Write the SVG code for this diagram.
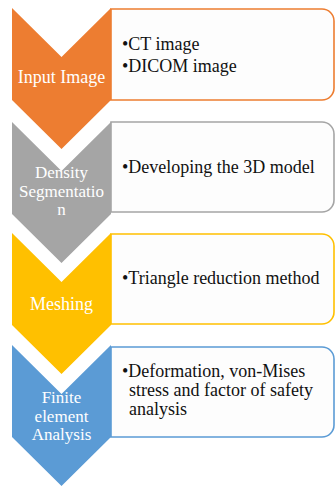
<svg xmlns="http://www.w3.org/2000/svg" width="335" height="488" viewBox="0 0 335 488">
<style>
.box{fill:#fdfdfd;stroke-width:1.6}
.lbl{font-family:"Liberation Serif","Times New Roman",serif;font-size:17px;fill:#ffffff;text-anchor:middle}
.lbl1{font-size:18px}
.txt{font-family:"Liberation Serif","Times New Roman",serif;font-size:18px;fill:#111111}
</style>
<rect width="335" height="488" fill="#ffffff"/>
<g id="connectors"></g>
<g id="step1">
<path class="box" stroke="#ED7D31" d="M111,9 H322 A12,12 0 0 1 334,21 V88 A12,12 0 0 1 322,100 H111 Z"/>
<path fill="#ED7D31" d="M12,8 L61.5,57 L111,8 L111,100 L61.5,149 L12,100 Z"/>
<text class="lbl lbl1" x="61.5" y="83">Input Image</text>
<text class="txt" x="122" y="50">•CT image</text>
<text class="txt" x="122" y="72">•DICOM image</text>
</g>
<g id="step2">
<path class="box" stroke="#A5A5A5" d="M111,122 H322 A12,12 0 0 1 334,134 V200 A12,12 0 0 1 322,212 H111 Z"/>
<path fill="#A5A5A5" d="M12,122 L61.5,171 L111,122 L111,214 L61.5,263 L12,214 Z"/>
<text class="lbl" x="61.5" y="178">Density</text>
<text class="lbl" x="61.5" y="196.5">Segmentatio</text>
<text class="lbl" x="61.5" y="215">n</text>
<text class="txt" x="122" y="173">•Developing the 3D model</text>
</g>
<g id="step3">
<path class="box" stroke="#FFC000" d="M111,234 H322 A12,12 0 0 1 334,246 V312 A12,12 0 0 1 322,324 H111 Z"/>
<path fill="#FFC000" d="M12,233 L61.5,282 L111,233 L111,325 L61.5,374 L12,325 Z"/>
<text class="lbl lbl1" x="61.5" y="310">Meshing</text>
<text class="txt" x="122" y="284">•Triangle reduction method</text>
</g>
<g id="step4">
<path class="box" stroke="#5B9BD5" d="M111,347 H322 A12,12 0 0 1 334,359 V425 A12,12 0 0 1 322,437 H111 Z"/>
<path fill="#5B9BD5" d="M12,345 L61.5,394 L111,345 L111,437 L61.5,486 L12,437 Z"/>
<text class="lbl" x="61.5" y="403">Finite</text>
<text class="lbl" x="61.5" y="421.5">element</text>
<text class="lbl" x="61.5" y="440">Analysis</text>
<text class="txt" x="122" y="377">•Deformation, von-Mises</text>
<text class="txt" x="129" y="396">stress and factor of safety</text>
<text class="txt" x="129" y="415">analysis</text>
</g>
</svg>
